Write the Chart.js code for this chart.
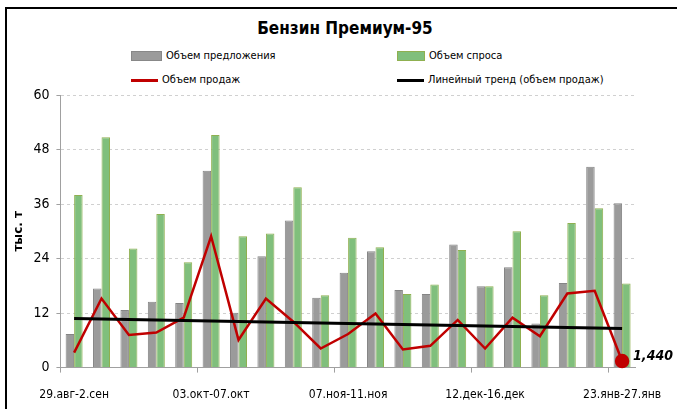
<!DOCTYPE html>
<html>
<head>
<meta charset="utf-8">
<script src="https://cdn.jsdelivr.net/npm/chart.js@4"></script>
<style>
  html, body { margin: 0; padding: 0; background: #fff; }
  body { width: 677px; height: 409px; position: relative; overflow: hidden;
         font-family: "DejaVu Sans Condensed", sans-serif; }
  #frame { position: absolute; left: 5px; top: 7px; width: 700px; height: 420px;
           border-left: 2px solid #000; border-top: 2px solid #000; }
  #title { position: absolute; left: 0; width: 690px; top: 18px; text-align: center;
           font-size: 17px; font-weight: bold; color: #000; }
  .leg { position: absolute; font-size: 11px; color: #000; line-height: 12px; }
  .leg i { display: inline-block; vertical-align: middle; margin-right: 4px; }
  canvas { position: absolute; left: 0; top: 0; }
</style>
</head>
<body>
<div id="frame"></div>
<div id="title">Бензин Премиум-95</div>
<div id="legend"></div>
<canvas id="chart" width="677" height="417"></canvas>
<script>
    // Data
    var weeks = ["29.авг-2.сен", "05.сен-09.сен", "12.сен-16.сен", "19.сен-23.сен", "26.сен-30.сен",
                 "03.окт-07.окт", "10.окт-14.окт", "17.окт-21.окт", "24.окт-28.окт", "31.окт-04.ноя",
                 "07.ноя-11.ноя", "14.ноя-18.ноя", "21.ноя-25.ноя", "28.ноя-02.дек", "05.дек-09.дек",
                 "12.дек-16.дек", "19.дек-23.дек", "26.дек-30.дек", "09.янв-13.янв", "16.янв-20.янв",
                 "23.янв-27.янв"];
    var supply = [7.4, 17.4, 12.7, 14.5, 14.2, 43.3, 12.1, 24.5, 32.4, 15.4,
                  20.9, 25.6, 17.1, 16.2, 27.1, 17.9, 22.1, 9.7, 18.6, 44.2, 36.2];
    var demand = [38.0, 50.7, 26.2, 33.8, 23.2, 51.2, 28.9, 29.5, 39.7, 15.9,
                  28.6, 26.5, 16.2, 18.3, 25.9, 17.9, 30.0, 15.9, 31.8, 35.1, 18.5];
    var sales = [3.3, 15.2, 7.2, 7.7, 11.0, 28.9, 6.1, 15.2, 10.1, 4.2,
                 7.4, 11.9, 4.0, 4.8, 10.5, 4.2, 11.0, 6.9, 16.3, 16.9, 1.44];
    var trendStart = 10.8, trendEnd = 8.6;
    var yTicks = [0, 12, 24, 36, 48, 60];
    var seriesNames = ["Объем предложения", "Объем спроса", "Объем продаж", "Линейный тренд (объем продаж)"];

    var trend = weeks.map(function (w, i) {
        if (i === 0) return trendStart;
        if (i === weeks.length - 1) return trendEnd;
        return null;
    });

    var fontFam = "'DejaVu Sans Condensed', sans-serif";

    // Legend (2 x 2)
    var legendItems = [
        {x: 131, y: 50, sw: '<i style="width:29px;height:8px;background:#9b9b9b;border:1px solid #888;"></i>'},
        {x: 397, y: 50, sw: '<i style="width:26px;height:8px;background:#80bf7c;border:1px solid #8fb050;"></i>'},
        {x: 131, y: 74, sw: '<i style="width:27px;height:3px;background:#c00000;"></i>'},
        {x: 397, y: 74, sw: '<i style="width:27px;height:3px;background:#000;"></i>'}
    ];
    var legendHtml = "";
    legendItems.forEach(function (it, i) {
        legendHtml += '<div class="leg" style="left:' + it.x + 'px;top:' + it.y + 'px">' + it.sw + seriesNames[i] + '</div>';
    });
    document.getElementById("legend").innerHTML = legendHtml;

    // Value label on the last sales point
    var lastLabel = {
        id: "lastLabel",
        afterDatasetsDraw: function (chart) {
            var meta = chart.getDatasetMeta(2);
            var pt = meta.data[meta.data.length - 1];
            var c = chart.ctx;
            c.save();
            c.font = "italic bold 14px " + fontFam;
            c.fillStyle = "#000";
            c.textBaseline = "middle";
            c.fillText(sales[sales.length - 1].toFixed(3).replace(".", ","), pt.x + 11, pt.y - 5);
            c.restore();
        }
    };

    var ctx = document.getElementById("chart").getContext("2d");
    var myChart = new Chart(ctx, {
        data: {
            labels: weeks,
            datasets: [{
                    type: "line",
                    label: seriesNames[3],
                    data: trend,
                    spanGaps: true,
                    borderColor: "#000",
                    borderWidth: 3,
                    pointRadius: 0,
                    order: 0
                },
                {
                    type: "bar",
                    label: seriesNames[0],
                    data: supply,
                    backgroundColor: "#9b9b9b",
                    borderColor: "#858585",
                    borderWidth: 1,
                    order: 3
                },
                {
                    type: "line",
                    label: seriesNames[2],
                    data: sales,
                    borderColor: "#c00000",
                    borderWidth: 2.5,
                    pointRadius: function (c) { return c.dataIndex === sales.length - 1 ? 6 : 0; },
                    pointBackgroundColor: "#c00000",
                    pointBorderColor: "#c00000",
                    tension: 0,
                    clip: false,
                    order: 1
                },
                {
                    type: "bar",
                    label: seriesNames[1],
                    data: demand,
                    backgroundColor: "#80bf7c",
                    borderColor: "#8fb050",
                    borderWidth: 1,
                    order: 3
                }
            ]
        },
        options: {
            responsive: false,
            animation: false,
            layout: { padding: { left: 12, right: 37, top: 95, bottom: 0 } },
            datasets: { bar: { categoryPercentage: 0.62, barPercentage: 1.0 } },
            plugins: { legend: { display: false }, tooltip: { enabled: false } },
            scales: {
                x: {
                    offset: true,
                    grid: {
                        offset: true,
                        drawOnChartArea: false,
                        tickLength: 5,
                        color: function (c) { return c.index % 5 === 0 ? "#a0a0a0" : "rgba(0,0,0,0)"; }
                    },
                    border: { color: "#a0a0a0" },
                    ticks: {
                        autoSkip: false,
                        maxRotation: 0,
                        padding: 15,
                        color: "#000",
                        font: { family: fontFam, size: 12 },
                        callback: function (v, i) { return i % 5 === 0 ? weeks[i] : ""; }
                    }
                },
                y: {
                    min: 0,
                    max: 60,
                    afterBuildTicks: function (axis) {
                        axis.ticks = yTicks.map(function (v) { return {value: v}; });
                    },
                    grid: {
                        color: "#d0d0d0",
                        tickLength: 4,
                        tickColor: "#a0a0a0"
                    },
                    border: { color: "#a0a0a0", dash: [3, 3] },
                    ticks: {
                        color: "#000",
                        padding: 7,
                        font: { family: fontFam, size: 14 }
                    },
                    title: {
                        display: true,
                        text: "тыс. т",
                        color: "#000",
                        padding: { top: 0, bottom: 0 },
                        font: { family: "'DejaVu Sans', sans-serif", size: 12, weight: "bold" }
                    }
                }
            }
        },
        plugins: [lastLabel]
    });
</script>
</body>
</html>
